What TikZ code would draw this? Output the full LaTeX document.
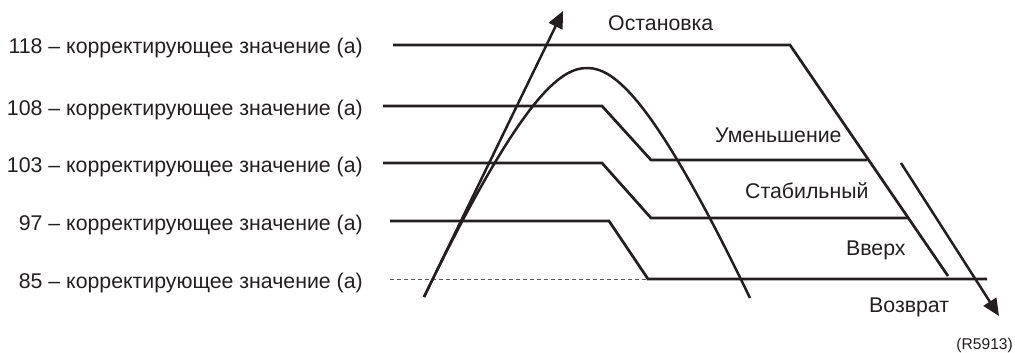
\documentclass[tikz,border=0pt]{standalone}
\usepackage{fontspec}
\setmainfont{Liberation Sans}
\usetikzlibrary{arrows.meta}
\definecolor{ink}{HTML}{231F20}
\begin{document}
\begin{tikzpicture}[x=1pt,y=-1pt,
  lvl/.style={draw=ink,line width=2.7pt},
  bell/.style={draw=ink,line width=2.5pt},
  thinline/.style={draw=ink!75,line width=0.9pt,dash pattern=on 4pt off 3pt},
  arr/.style={draw=ink,line width=2.5pt,-{Triangle[length=17pt,width=15pt]}},
  lbl/.style={inner sep=0pt,font=\fontsize{21.3}{25}\selectfont,text=ink},
  small/.style={inner sep=0pt,font=\fontsize{15.6}{18}\selectfont,text=ink},
  ]
\useasboundingbox (0,0) rectangle (1015,353);
% left labels
\node[lbl,anchor=base east] (l118) at (363,54) {118 – корректирующее значение (а)};
\node[lbl,anchor=base east] (l108) at (363,115) {108 – корректирующее значение (а)};
\node[lbl,anchor=base east] (l103) at (363,172) {103 – корректирующее значение (а)};
\node[lbl,anchor=base east] (l97) at (363,230) {97 – корректирующее значение (а)};
\node[lbl,anchor=base east] (l85) at (363,288) {85 – корректирующее значение (а)};
% right labels
\node[lbl,anchor=base west] (stop) at (608,31) {Остановка};
\node[lbl,anchor=base west] (dec) at (715,142) {Уменьшение};
\node[lbl,anchor=base west] (stab) at (745,198) {Стабильный};
\node[lbl,anchor=base west] (up) at (846,255) {Вверх};
\node[lbl,anchor=base west] (ret) at (869,312) {Возврат};
\node[small,anchor=base east] (ref) at (1013,349) {(R5913)};
% coordinates
\coordinate (a1) at (393,45);  \coordinate (a2) at (790,45);  \coordinate (a3) at (948,276);
\coordinate (b1) at (383,106); \coordinate (b2) at (602,106); \coordinate (b3) at (651,160); \coordinate (b4) at (867,160);
\coordinate (c1) at (383,163); \coordinate (c2) at (602,163); \coordinate (c3) at (651,218); \coordinate (c4) at (908,218);
\coordinate (d1) at (390,221); \coordinate (d2) at (609,221); \coordinate (d3) at (648,279); \coordinate (d4) at (987,279);
\coordinate (e1) at (390,279);
\coordinate (s) at (424,297); \coordinate (t) at (563,11);
\coordinate (pk) at (587,68); \coordinate (pe) at (750,298);
\coordinate (u) at (901,163); \coordinate (v) at (999,316);
% lines
\draw[lvl] (a1) -- (a2) -- (a3);
\draw[lvl] (b1) -- (b2) -- (b3) -- (b4);
\draw[lvl] (c1) -- (c2) -- (c3) -- (c4);
\draw[lvl] (d1) -- (d2) -- (d3) -- (d4);
\draw[thinline] (e1) -- (d3);
\draw[bell] (s) .. controls (521,97) and (560,68) .. (pk) .. controls (614,68) and (653,97) .. (pe);
\draw[arr] (s) -- (t);
\draw[arr] (u) -- (v);
\end{tikzpicture}
\end{document}
